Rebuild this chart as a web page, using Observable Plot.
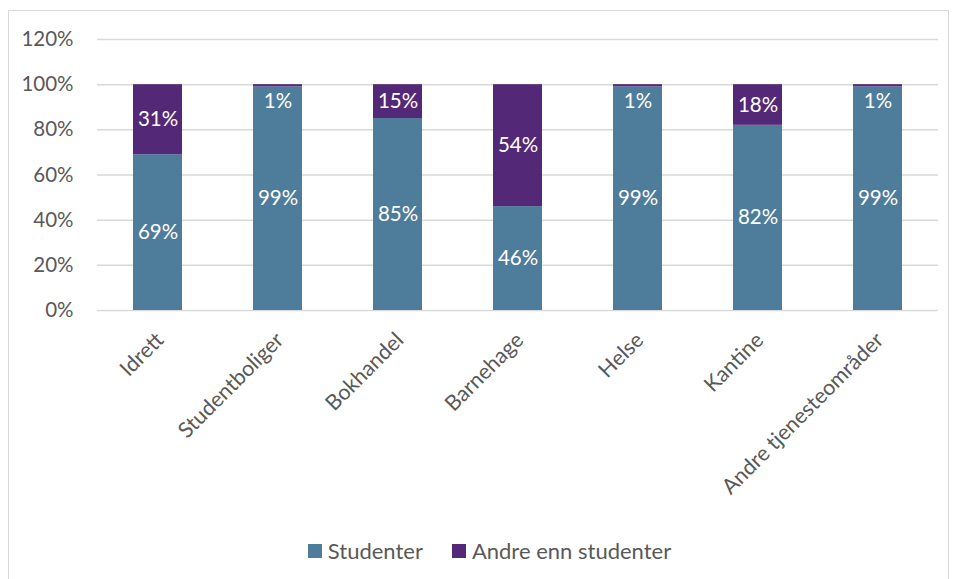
<!DOCTYPE html>
<html>
<head>
<meta charset="utf-8">
<script src="https://cdn.jsdelivr.net/npm/d3@7"></script>
<script src="https://cdn.jsdelivr.net/npm/@observablehq/plot@0.6"></script>
<style>
  html, body { margin: 0; padding: 0; background: #fff; }
  body { width: 955px; height: 579px; position: relative; overflow: hidden; font-family: Lato, "Open Sans", sans-serif; }
  #frame { position: absolute; left: 8px; top: 10px; width: 941px; height: 600px; border: 1.5px solid #d9d9d9; box-sizing: border-box; }
  #chart { position: absolute; left: 0; top: 0; }
  #legend { position: absolute; left: 0; top: 537px; width: 955px; display: flex; justify-content: center; gap: 29px; padding-left: 24px; box-sizing: border-box; font-size: 22px; color: #595959; }
  .item { display: flex; align-items: center; gap: 6px; }
  .sw { width: 14px; height: 14px; display: inline-block; }
</style>
</head>
<body>
<div id="frame"></div>
<div id="chart"></div>
<div id="legend"></div>
<script>
const categories = ["Idrett", "Studentboliger", "Bokhandel", "Barnehage", "Helse", "Kantine", "Andre tjenesteområder"];
const series = ["Studenter", "Andre enn studenter"];
const studenter = [0.69, 0.99, 0.85, 0.46, 0.99, 0.82, 0.99];
const andre = [0.31, 0.01, 0.15, 0.54, 0.01, 0.18, 0.01];
const colors = ["#4E7D9C", "#532877"];
const yTicks = [0, 0.2, 0.4, 0.6, 0.8, 1.0, 1.2];

const rows = [];
categories.forEach((c, i) => {
  rows.push({cat: c, series: series[0], value: studenter[i], y1: 0, y2: studenter[i]});
  rows.push({cat: c, series: series[1], value: andre[i], y1: studenter[i], y2: studenter[i] + andre[i]});
});
rows.forEach(r => { r.mid = Math.min((r.y1 + r.y2) / 2, 0.925); });

const fmt = d3.format(".0%");

const chart = Plot.plot({
  width: 955,
  height: 520,
  marginLeft: 97,
  marginRight: 17,
  marginTop: 39,
  marginBottom: 210,
  style: {fontFamily: "Lato, 'Open Sans', sans-serif", fontSize: "20px", color: "#595959", background: "transparent"},
  x: {domain: categories, paddingInner: 0.59, paddingOuter: 0.295, label: null},
  y: {domain: [0, 1.2], label: null},
  color: {domain: series, range: colors},
  marks: [
    Plot.gridY(yTicks, {stroke: "#d9d9d9", strokeOpacity: 1, strokeWidth: 1.5}),
    Plot.axisY(yTicks, {tickFormat: fmt, tickSize: 0, tickPadding: 24, fontSize: 20.5, fill: "#595959", label: null}),
    Plot.barY(rows, {x: "cat", y1: "y1", y2: "y2", fill: "series"}),
    Plot.text(rows, {x: "cat", y: "mid", text: d => fmt(d.value), fill: "white", fontSize: 20.5}),
    Plot.axisX({tickSize: 0, tickRotate: -45, tickPadding: 26, dx: 2, fontSize: 21.5, fill: "#595959", label: null})
  ]
});
document.getElementById("chart").appendChild(chart);

const legend = document.getElementById("legend");
series.forEach((s, i) => {
  const item = document.createElement("div");
  item.className = "item";
  const sw = document.createElement("span");
  sw.className = "sw";
  sw.style.background = colors[i];
  const t = document.createElement("span");
  t.textContent = s;
  item.appendChild(sw);
  item.appendChild(t);
  legend.appendChild(item);
});
</script>
</body>
</html>
